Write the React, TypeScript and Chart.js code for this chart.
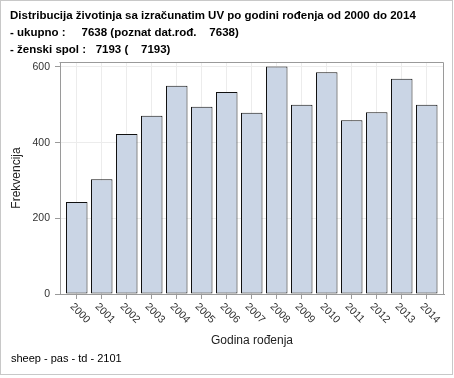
import React, { useEffect, useRef } from "react";
import { Chart, registerables } from "chart.js";

Chart.register(...registerables);

const years = [2000, 2001, 2002, 2003, 2004, 2005, 2006, 2007, 2008, 2009, 2010, 2011, 2012, 2013, 2014];
const counts = [243, 303, 423, 471, 550, 495, 534, 479, 601, 500, 586, 459, 480, 569, 500];
const titleLines = [
  "Distribucija životinja sa izračunatim UV po godini rođenja od 2000 do 2014",
  "- ukupno :     7638 (poznat dat.rođ.    7638)",
  "- ženski spol :   7193 (    7193)",
];
const footerText = "sheep - pas - td - 2101";
const xTitle = "Godina rođenja";
const yTitle = "Frekvencija";
const yTickValues = [0, 200, 400, 600];

const FONT = '"Liberation Sans", Arial, sans-serif';

const decorPlugin = {
  id: "decor",
  beforeDatasetsDraw(chart: any) {
    const { ctx, chartArea } = chart;
    ctx.save();
    ctx.strokeStyle = "#9a9a9a";
    ctx.lineWidth = 1;
    ctx.beginPath();
    ctx.moveTo(Math.round(chartArea.left) - 0.5, Math.round(chartArea.top) + 0.5);
    ctx.lineTo(Math.round(chartArea.right) - 0.5, Math.round(chartArea.top) + 0.5);
    ctx.lineTo(Math.round(chartArea.right) - 0.5, Math.round(chartArea.bottom));
    ctx.stroke();
    ctx.restore();
  },
  afterDraw(chart: any) {
    const { ctx } = chart;
    ctx.save();
    // outer frame
    ctx.strokeStyle = "#c8c8c8";
    ctx.lineWidth = 1;
    ctx.strokeRect(0.5, 0.5, 452, 374);
    // title
    ctx.fillStyle = "#000";
    ctx.textBaseline = "middle";
    ctx.textAlign = "left";
    ctx.font = "bold 11.5px " + FONT;
    const ys = [15.5, 32.5, 49.5];
    titleLines.forEach((t, i) => ctx.fillText(t, 10, ys[i]));
    // footer
    ctx.font = "11px " + FONT;
    ctx.fillText(footerText, 11, 359);
    // rotated x tick labels
    const xs = chart.scales.x;
    ctx.fillStyle = "#333";
    ctx.font = "10.5px " + FONT;
    years.forEach((yr) => {
      const px = xs.getPixelForValue(yr);
      ctx.save();
      ctx.translate(px - 5, xs.top + 11);
      ctx.rotate(Math.PI / 4);
      ctx.textAlign = "left";
      ctx.textBaseline = "middle";
      ctx.fillText(String(yr), 0, 0);
      ctx.restore();
    });
    ctx.restore();
  },
};

export default function App() {
  const ref = useRef<HTMLCanvasElement | null>(null);
  useEffect(() => {
    if (!ref.current) return;
    const chart = new Chart(ref.current, {
      type: "bar",
      data: {
        datasets: [
          {
            data: years.map((y, i) => ({ x: y, y: counts[i] })),
            backgroundColor: "#CAD5E5",
            borderColor: "#111",
            borderWidth: 1,
            borderSkipped: false,
            barPercentage: 0.86,
            categoryPercentage: 1,
          },
        ],
      },
      options: {
        animation: false,
        responsive: false,
        events: [],
        layout: { padding: { top: 62, right: 10, left: 0, bottom: 0 } },
        plugins: { legend: { display: false }, tooltip: { enabled: false }, title: { display: false } },
        scales: {
          x: {
            type: "linear",
            min: years[0] - 0.67,
            max: years[years.length - 1] + 0.69,
            offset: false,
            afterFit: (s: any) => {
              s.height = 84;
            },
            grid: { offset: false, color: "#ececec", tickColor: "#9a9a9a", tickLength: 5, drawOnChartArea: true },
            border: { color: "#9a9a9a" },
            ticks: { stepSize: 1, includeBounds: false, display: false },
            title: {
              display: true,
              text: xTitle,
              color: "#222",
              font: { family: FONT, size: 12 },
              padding: { top: 0, bottom: 30 },
            },
          },
          y: {
            min: 0,
            max: 613,
            afterFit: (s: any) => {
              s.width = 60;
            },
            afterBuildTicks: (s: any) => {
              s.ticks = yTickValues.map((v) => ({ value: v }));
            },
            grid: { color: "#ececec", tickColor: "#9a9a9a", tickLength: 5 },
            border: { color: "#9a9a9a" },
            ticks: { color: "#333", padding: 5, font: { family: FONT, size: 10.5 } },
            title: {
              display: true,
              text: yTitle,
              color: "#222",
              font: { family: FONT, size: 12 },
              padding: { top: 9, bottom: 0 },
            },
          },
        },
      },
      plugins: [decorPlugin],
    });
    return () => chart.destroy();
  }, []);
  return (
    <div style={{ position: "fixed", left: 0, top: 0, width: 454, height: 378, background: "#fff" }}>
      <canvas ref={ref} width={454} height={378} style={{ display: "block", width: 454, height: 378 }} />
    </div>
  );
}
